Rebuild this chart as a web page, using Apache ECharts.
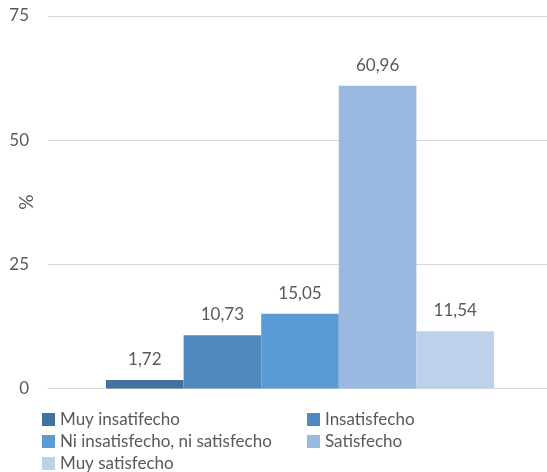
<!DOCTYPE html>
<html>
<head>
<meta charset="utf-8">
<script src="https://cdn.jsdelivr.net/npm/echarts@6/dist/echarts.min.js"></script>
<style>html,body{margin:0;padding:0;background:#fff}#c{width:547px;height:472px}</style>
</head>
<body>
<div id="c"></div>
<script>
var categories = ['Satisfacción'];
var seriesNames = ['Muy insatifecho', 'Insatisfecho', 'Ni insatisfecho, ni satisfecho', 'Satisfecho', 'Muy satisfecho'];
var seriesValues = [1.72, 10.73, 15.05, 60.96, 11.54];
var seriesColors = ['#43729E', '#4F89BD', '#5B9BD5', '#9AB9E0', '#BDD1EA'];
var yTicks = [0, 25, 50, 75];

var FONT = 'Lato';
var TXT = '#595959';
var FS = 17;

var chart = echarts.init(document.getElementById('c'), null, {renderer: 'canvas'});
var series = seriesNames.map(function (n, i) {
  return {
    name: n,
    type: 'bar',
    data: [seriesValues[i]],
    barWidth: 77.6,
    barGap: '0%',
    itemStyle: {color: seriesColors[i]},
    label: {
      show: true,
      position: 'top',
      distance: 12,
      color: TXT,
      fontFamily: FONT,
      fontSize: FS,
      formatter: function (p) { return p.value.toFixed(2).replace('.', ','); }
    }
  };
});

function legendCol(left, names) {
  return {
    orient: 'vertical',
    left: left,
    top: 406,
    height: 80,
    itemWidth: 13,
    itemHeight: 13,
    itemGap: 5,
    icon: 'rect',
    data: names,
    textStyle: {color: TXT, fontFamily: FONT, fontSize: FS, lineHeight: 17}
  };
}

chart.setOption({
  animation: false,
  backgroundColor: '#fff',
  grid: {left: 48, top: 16, width: 504, height: 372.5, containLabel: false, outerBoundsMode: 'none'},
  xAxis: {
    type: 'category',
    data: categories,
    axisLine: {show: true, lineStyle: {color: '#D9D9D9', width: 1}},
    axisTick: {show: false},
    axisLabel: {show: false}
  },
  yAxis: {
    type: 'value',
    min: yTicks[0],
    max: yTicks[yTicks.length - 1],
    interval: 25,
    name: '%',
    nameLocation: 'middle',
    nameGap: 12,
    nameRotate: 90,
    nameMoveOverlap: false,
    nameTextStyle: {color: TXT, fontFamily: FONT, fontSize: 19},
    axisLine: {show: false},
    axisTick: {show: false},
    axisLabel: {color: TXT, fontFamily: FONT, fontSize: FS, margin: 19},
    splitLine: {lineStyle: {color: '#D9D9D9', width: 1}}
  },
  legend: [
    legendCol(37, [seriesNames[0], seriesNames[2], seriesNames[4]]),
    legendCol(302, [seriesNames[1], seriesNames[3]])
  ],
  series: series
});
</script>
</body>
</html>
